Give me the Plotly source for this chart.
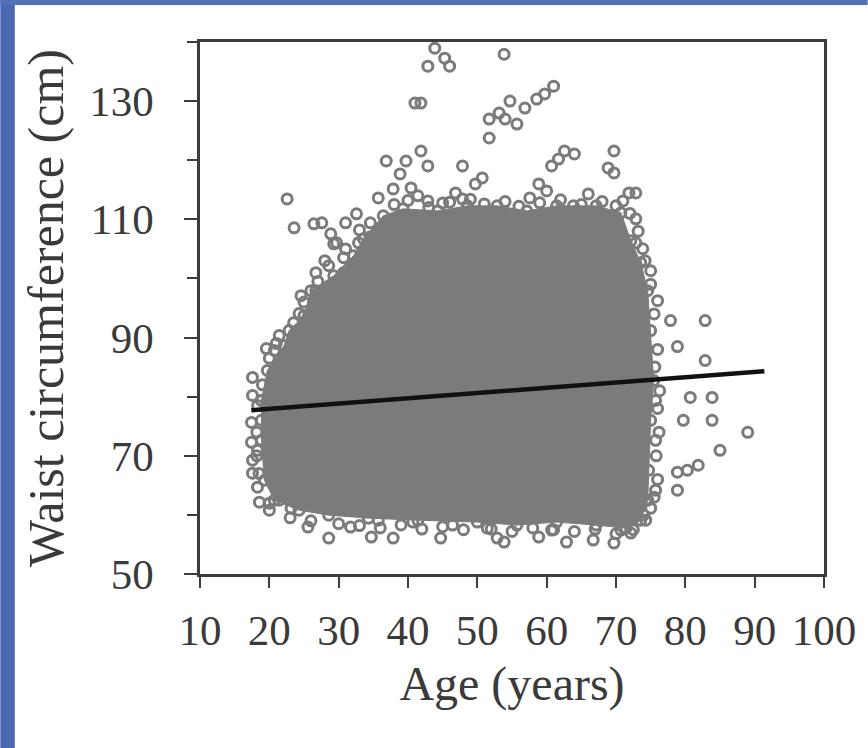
import plotly.graph_objects as go

# Dense core of the cloud (outline), age / waist
core_age = [18.86, 19.71, 22.14, 22.86, 25.0, 26.0, 29.29, 32.14, 33.57, 36.43, 39.29, 44.29,
            48.57, 52.86, 57.14, 61.43, 67.14, 70.71, 72.14, 73.57, 74.57, 75.0, 75.43, 75.0,
            74.71, 74.57, 73.57, 71.43, 67.14, 61.43, 55.71, 50.0, 41.43, 34.29, 28.57, 24.29,
            20.71, 19.29, 18.86, 18.86]
core_waist = [79.37, 84.43, 88.65, 91.18, 93.71, 97.93, 100.46, 103.84, 106.71, 110.59, 111.77, 111.43,
              112.28, 112.28, 111.43, 112.28, 112.28, 111.10, 106.37, 102.66, 97.93, 91.18, 82.74, 75.99,
              67.55, 62.49, 59.11, 57.76, 58.27, 58.78, 58.27, 58.78, 59.11, 59.45, 59.96, 60.80,
              62.49, 65.86, 72.62, 79.37]

# Individual points outside / along the edge of the core
pt_age = [43.86, 45.29, 46.0, 42.86, 53.86, 41.0, 41.86, 54.71, 51.71, 53.14, 54.0, 51.71,
          61.0, 58.57, 56.86, 59.71, 55.71, 62.57, 64.0, 60.71, 61.71, 69.71, 68.86, 69.71,
          58.86, 60.0, 57.57, 63.86, 66.0, 72.86, 71.0, 71.86, 72.86, 72.86, 73.86, 71.86,
          36.86, 41.86, 39.71, 42.86, 47.86, 38.86, 50.71, 49.71, 37.86, 40.43, 35.71, 46.86,
          47.86, 45.0, 41.43, 42.86, 22.57, 23.57, 26.43, 27.57, 28.86, 29.71, 31.0, 32.57,
          32.86, 30.71, 34.57, 29.29, 28.57, 26.71, 30.71, 24.57, 26.71, 24.29, 21.43, 19.57,
          22.57, 20.71, 17.57, 17.57, 17.43, 17.43, 17.57, 17.57, 18.29, 18.86, 18.29, 18.57,
          20.0, 21.43, 23.14, 25.57, 28.57, 31.71, 34.71, 37.86, 35.71, 40.71, 44.71, 46.43,
          52.86, 53.86, 51.43, 58.86, 62.86, 60.71, 66.71, 69.71, 72.14, 70.71, 78.86, 81.86,
          80.29, 78.86, 85.0, 89.0, 83.86, 79.71, 83.86, 80.71, 82.86, 78.86, 82.86, 77.86,
          75.71, 75.71, 76.0, 75.0, 75.71, 75.0, 74.29,
          38.0, 40.0, 43.0, 46.0, 49.0, 51.0, 54.0, 56.0, 59.0, 62.0, 65.0, 68.0, 70.0,
          33.0, 34.5, 31.0, 28.0, 27.0, 25.0, 23.5, 21.0, 20.0, 19.0, 18.3, 18.2, 18.2, 18.5,
          20.0, 23.0, 26.0, 30.0, 33.0, 36.0, 39.0, 42.0, 45.0, 48.0, 52.0, 55.0, 58.0, 61.0,
          64.0, 67.0, 70.0, 72.5,
          74.0, 75.5, 76.0, 75.8, 76.2, 76.0, 76.3, 75.6, 76.0, 75.5, 75.0, 74.2, 73.2, 72.0]
pt_waist = [138.95, 137.26, 135.91, 135.91, 137.93, 129.66, 129.66, 130.0, 126.96, 127.97, 126.96, 123.76,
            132.53, 130.34, 128.82, 131.2, 126.12, 121.56, 121.05, 119.03, 120.2, 121.56, 118.69, 117.85,
            115.99, 114.81, 113.63, 112.28, 114.30, 114.47, 113.12, 114.47, 110.08, 106.03, 105.02, 103.50,
            119.87, 121.56, 119.87, 119.03, 119.03, 117.68, 117.0, 115.99, 115.15, 115.32, 113.63, 114.47,
            113.46, 112.78, 113.97, 113.12, 113.46, 108.57, 109.24, 109.41, 107.55, 106.03, 109.41, 110.93,
            106.03, 103.50, 109.41, 105.86, 102.15, 100.97, 100.97, 97.09, 97.93, 94.05, 90.34, 88.14,
            86.46, 87.81, 83.25, 80.21, 75.65, 72.28, 69.24, 67.05, 70.93, 76.0, 64.68, 62.15,
            61.98, 62.49, 61.14, 57.93, 56.08, 57.93, 56.24, 56.08, 59.11, 58.78, 56.08, 58.27,
            56.08, 55.40, 57.76, 56.24, 55.40, 57.43, 55.74, 55.23, 56.92, 57.43, 67.22, 68.40,
            67.55, 64.18, 70.93, 73.97, 75.99, 75.99, 79.87, 79.87, 86.12, 88.48, 92.87, 92.87,
            79.37, 72.62, 96.24, 101.3, 64.18, 61.14, 59.11,
            112.5, 113.2, 112.0, 112.9, 113.4, 112.6, 113.0, 112.2, 112.8, 113.3, 112.5, 113.0, 112.3,
            108.2, 107.0, 105.0, 103.0, 99.5, 96.0, 92.5, 89.0, 86.5, 82.0, 78.5, 74.0, 70.0, 67.0,
            60.8, 59.5, 59.0, 58.5, 58.2, 57.8, 58.3, 57.6, 58.0, 57.5, 57.6, 57.2, 57.8, 57.5,
            57.2, 57.6, 56.8, 57.5,
            60.0, 63.0, 66.0, 70.0, 74.0, 78.0, 81.0, 85.0, 88.0, 94.0, 99.0, 103.0, 108.0, 111.0]

# Regression line end points
fit_age = [17.4, 91.4]
fit_waist = [77.7, 84.3]

x_ticks = [10, 20, 30, 40, 50, 60, 70, 80, 90, 100]
y_ticks = [50, 70, 90, 110, 130]

GRAY = "#7b7b7e"
FONT = "Liberation Serif"
AX = "#3c3c3c"

fig = go.Figure()
fig.add_trace(go.Scatter(x=core_age, y=core_waist, mode="lines+markers", fill="toself",
                         fillcolor=GRAY, line=dict(color=GRAY, width=1),
                         marker=dict(symbol="circle-open", size=10, color=GRAY, line=dict(width=3)),
                         hoverinfo="skip", showlegend=False))
fig.add_trace(go.Scatter(x=pt_age, y=pt_waist, mode="markers",
                         marker=dict(symbol="circle-open", size=10, color=GRAY, line=dict(width=3)),
                         showlegend=False))
fig.add_trace(go.Scatter(x=fit_age, y=fit_waist, mode="lines",
                         line=dict(color="#111111", width=4.5), showlegend=False))

BLUE = "#4a68b2"
fig.add_shape(type="rect", xref="paper", yref="paper", x0=-0.32, x1=-0.2968, y0=-0.33, y1=1.08,
              fillcolor=BLUE, line=dict(width=0), layer="above")
fig.add_shape(type="rect", xref="paper", yref="paper", x0=-0.32, x1=1.07, y0=1.0695, y1=1.08,
              fillcolor="#5070b8", line=dict(width=0), layer="above")

fig.update_layout(
    width=868, height=748,
    margin=dict(l=200, r=38, t=42, b=174),
    paper_bgcolor="white", plot_bgcolor="white",
    font=dict(family=FONT, color="#3a3a3a", size=43),
    xaxis=dict(range=[10, 100], tickvals=x_ticks, ticks="outside", ticklen=11, tickwidth=2,
               tickcolor=AX, showline=True, linecolor=AX, linewidth=2.5, mirror=True,
               showgrid=False, zeroline=False, tickfont=dict(size=43), ticklabelstandoff=6,
               title=dict(text="Age (years)", font=dict(size=48), standoff=14)),
    yaxis=dict(range=[50, 140], tickvals=y_ticks, ticks="outside", ticklen=13, tickwidth=2,
               tickcolor=AX, showline=True, linecolor=AX, linewidth=2.5, mirror=True,
               showgrid=False, zeroline=False, tickfont=dict(size=43), ticklabelstandoff=22,
               minor=dict(tickvals=[60, 80, 100, 120, 140], ticks="outside", ticklen=10,
                          tickwidth=2, tickcolor=AX, showgrid=False),
               title=dict(text="Waist circumference (cm)", font=dict(size=50), standoff=10)),
)

fig.write_html("out.html")
